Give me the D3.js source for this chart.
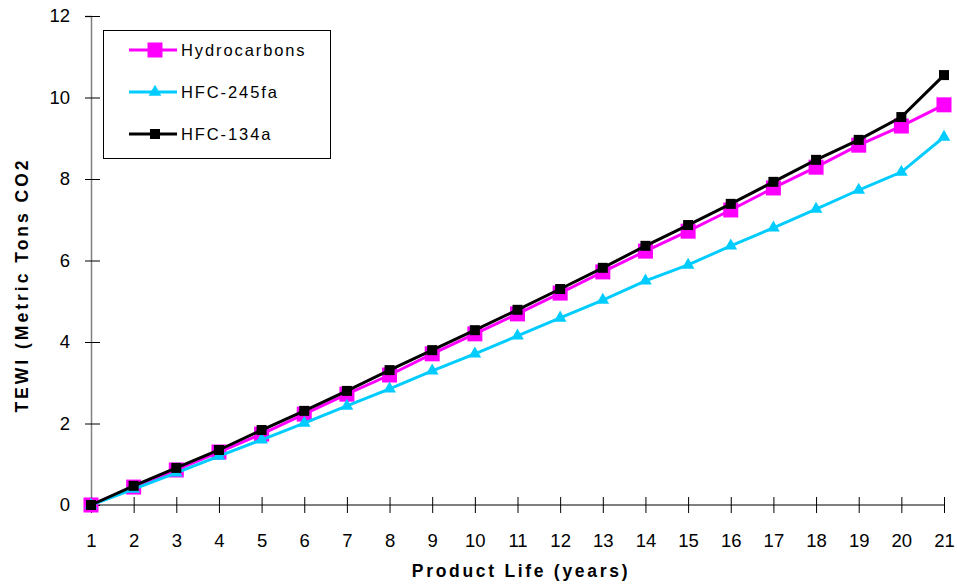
<!DOCTYPE html>
<html><head><meta charset="utf-8">
<script src="https://cdn.jsdelivr.net/npm/d3@7"></script>
<style>body{margin:0;background:#fff}svg{display:block}text{font-family:"Liberation Sans",Arial,sans-serif}</style>
</head><body><svg id="c" width="957" height="587"></svg>
<script>
const years = d3.range(1, 22);
const xTickLabels = years.map(String);
const yTicks = [0, 2, 4, 6, 8, 10, 12];
const hydrocarbons = [0, 0.44, 0.86, 1.30, 1.74, 2.23, 2.72, 3.19, 3.71, 4.20, 4.69, 5.20, 5.72, 6.23, 6.72, 7.24, 7.78, 8.29, 8.83, 9.30, 9.82];
const hfc245fa = [0, 0.39, 0.79, 1.20, 1.60, 2.01, 2.43, 2.85, 3.29, 3.71, 4.15, 4.59, 5.03, 5.50, 5.89, 6.36, 6.80, 7.26, 7.73, 8.17, 9.03];
const hfc134a = [0, 0.47, 0.91, 1.35, 1.84, 2.31, 2.80, 3.31, 3.80, 4.29, 4.79, 5.30, 5.82, 6.36, 6.87, 7.39, 7.93, 8.47, 8.96, 9.52, 10.55];
const seriesNames = ["Hydrocarbons", "HFC-245fa", "HFC-134a"];
const seriesColors = ["#ff00ff", "#00ccff", "#000000"];
const seriesShapes = ["bigsquare", "triangle", "square"];
const seriesValues = [hydrocarbons, hfc245fa, hfc134a];

const svg = d3.select("#c");
const x = d3.scaleLinear().domain([1, 21]).range([91, 944]);
const y = d3.scaleLinear().domain([0, 12]).range([505, 16]);

// y axis
const yAx = svg.append("g").attr("transform", "translate(91,0)")
  .call(d3.axisLeft(y).tickValues(yTicks).tickSize(6).tickPadding(15));
yAx.select(".domain").attr("stroke", "#808080").attr("stroke-width", 1.5);
yAx.selectAll(".tick line").attr("x2", 9).attr("x1", -6).attr("stroke", "#000");
yAx.selectAll(".tick text").attr("font-size", 18.5).attr("fill", "#000")
  .attr("font-family", "Liberation Sans, Arial, sans-serif");

// x axis
const xAx = svg.append("g").attr("transform", "translate(0,505)")
  .call(d3.axisBottom(x).tickValues(years).tickFormat((d, i) => xTickLabels[i]).tickSize(8).tickPadding(21));
xAx.select(".domain").attr("stroke", "#000").attr("stroke-width", 1.2).attr("d", "M91,0H944");
xAx.selectAll(".tick line").attr("y1", -8).attr("y2", 8).attr("stroke", "#000");
xAx.selectAll(".tick text").attr("font-size", 18.5).attr("fill", "#000")
  .attr("font-family", "Liberation Sans, Arial, sans-serif");

// axis titles
svg.append("text").attr("x", 521).attr("y", 577).attr("text-anchor", "middle")
  .attr("font-size", 17.5).attr("font-weight", "bold").attr("letter-spacing", 2.7)
  .text("Product Life (years)");
svg.append("text").attr("transform", "translate(28,285) rotate(-90)").attr("text-anchor", "middle")
  .attr("font-size", 17.5).attr("font-weight", "bold").attr("letter-spacing", 3)
  .text("TEWI (Metric Tons CO2");

function drawMarker(g, shape, color, cx, cy) {
  if (shape === "bigsquare") {
    g.append("rect").attr("x", cx - 7.5).attr("y", cy - 7.5).attr("width", 15).attr("height", 15).attr("fill", color);
  } else if (shape === "square") {
    g.append("rect").attr("x", cx - 5).attr("y", cy - 5).attr("width", 10).attr("height", 10).attr("fill", color);
  } else {
    g.append("path").attr("d", d3.symbol(d3.symbolTriangle, 70)()).attr("transform", `translate(${cx},${cy})`).attr("fill", color);
  }
}

const line = d3.line().x((d, i) => x(years[i])).y(d => y(d));
seriesValues.forEach((vals, si) => {
  const g = svg.append("g");
  g.append("path").datum(vals).attr("d", line).attr("fill", "none")
    .attr("stroke", seriesColors[si]).attr("stroke-width", 3);
  vals.forEach((v, i) => drawMarker(g, seriesShapes[si], seriesColors[si], x(years[i]), y(v)));
});

// legend
const lg = svg.append("g");
lg.append("rect").attr("x", 103.5).attr("y", 30.5).attr("width", 227).attr("height", 128)
  .attr("fill", "#fff").attr("stroke", "#000").attr("stroke-width", 1);
seriesNames.forEach((n, i) => {
  const cy = 50 + i * 42;
  lg.append("line").attr("x1", 129).attr("x2", 177).attr("y1", cy).attr("y2", cy)
    .attr("stroke", seriesColors[i]).attr("stroke-width", 3);
  drawMarker(lg, seriesShapes[i], seriesColors[i], 155, cy);
  lg.append("text").attr("x", 181).attr("y", cy + 6).attr("font-size", 16.5).attr("letter-spacing", 1.9)
    .text(n);
});
</script></body></html>
